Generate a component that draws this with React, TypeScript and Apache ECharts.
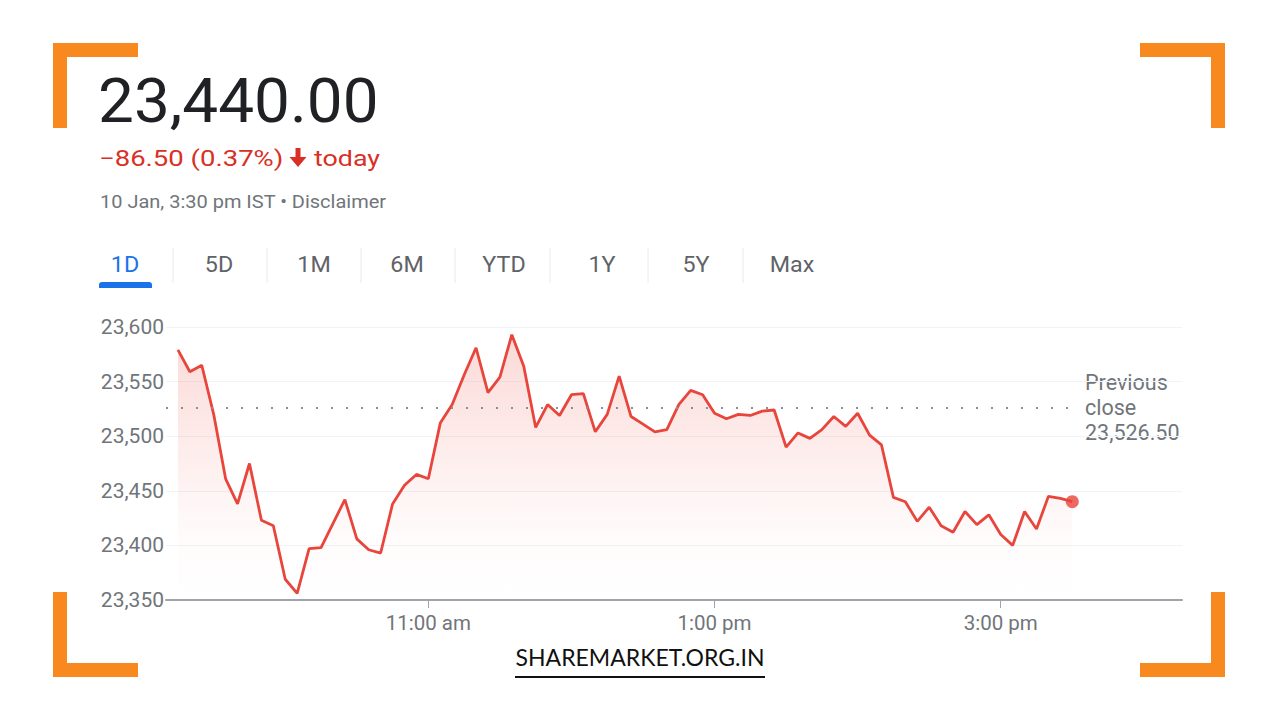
import React, { useEffect, useRef } from "react";
import * as echarts from "echarts";

// ---- data ----
const START_MIN = 555; // 9:15 am, minutes since midnight
const STEP_MIN = 5; // sampling interval of the intraday series
const prices = [
  23579, 23559, 23565, 23520, 23461, 23438, 23475, 23423, 23418, 23369,
  23356, 23397, 23398, 23420, 23442, 23406, 23396, 23393, 23438, 23455,
  23465, 23461, 23512, 23529, 23556, 23581, 23540, 23554, 23593, 23564,
  23508, 23529, 23519, 23538, 23539, 23504, 23520, 23555, 23518, 23511,
  23504, 23506, 23529, 23542, 23538, 23521, 23516, 23520, 23519, 23523,
  23524, 23490, 23503, 23498, 23506, 23518, 23509, 23521, 23501, 23492,
  23444, 23440, 23422, 23435, 23418, 23412, 23431, 23419, 23428, 23410,
  23400, 23431, 23415, 23445, 23443, 23440,
];
const xTickMinutes = [660, 780, 900];
const xTickLabels = ["11:00 am", "1:00 pm", "3:00 pm"];
const yMin = 23350;
const yMax = 23600;
const yStep = 50;
const previousClose = 23526.5;
const previousCloseLabel = ["Previous", "close", "23,526.50"];
const closeMinute = 930; // 3:30 pm
const headlinePrice = "23,440.00";
const changeText = "−86.50 (0.37%)";
const todayText = "today";
const dateText = "10 Jan, 3:30 pm IST • Disclaimer";
const tabs = ["1D", "5D", "1M", "6M", "YTD", "1Y", "5Y", "Max"];
const watermark = "SHAREMARKET.ORG.IN";

const RED = "#e8453c";
const ORANGE = "#f7891e";
const GRAY = "#70757a";
const FONT = "Roboto, Arial, sans-serif";

export default function App() {
  const ref = useRef<HTMLDivElement>(null);

  useEffect(() => {
    if (!ref.current) return;
    const chart = echarts.init(ref.current, null, { renderer: "svg" });

    const seriesData = prices.map((v, i) => [START_MIN + i * STEP_MIN, v]);
    const last = seriesData[seriesData.length - 1];

    const tabCenters = [125, 219, 314, 407, 504, 602, 696, 792];
    const sepX = [173, 267, 361, 455, 550, 648, 743];

    const txt = (
      text: string,
      x: number,
      y: number,
      size: number,
      fill: string,
      align = "left",
      scaleX = 1
    ) => ({
      type: "text",
      x,
      y,
      scaleX,
      silent: true,
      style: {
        text,
        fontSize: size,
        fontFamily: FONT,
        fill,
        align,
        verticalAlign: "middle",
      },
    });

    const bracket = (x: number, y: number, w: number, h: number) => ({
      type: "rect",
      silent: true,
      shape: { x, y, width: w, height: h },
      style: { fill: ORANGE },
    });

    const graphics: any[] = [
      // orange corner brackets
      bracket(53, 43, 85, 14),
      bracket(53, 43, 14, 85),
      bracket(1140, 43, 85, 14),
      bracket(1211, 43, 14, 85),
      bracket(53, 592, 14, 85),
      bracket(53, 663, 85, 14),
      bracket(1211, 592, 14, 85),
      bracket(1140, 663, 85, 14),
      // header
      txt(headlinePrice, 98, 101, 62, "#202124", "left", 1.03),
      txt(changeText, 99, 158, 22, "#d93025", "left", 1.25),
      {
        type: "polygon",
        silent: true,
        shape: {
          points: [
            [295.5, 148],
            [300.5, 148],
            [300.5, 157],
            [306.5, 157],
            [298, 167],
            [289.5, 157],
            [295.5, 157],
          ],
        },
        style: { fill: "#d93025" },
      },
      txt(todayText, 314, 158, 22, "#d93025", "left", 1.22),
      txt(dateText, 100, 202, 18.5, GRAY, "left", 1.08),
      // tabs
      ...tabs.map((t, i) =>
        txt(t, tabCenters[i], 265, 22, i === 0 ? "#1a73e8" : "#5f6368", "center", 1.06)
      ),
      ...sepX.map((x) => ({
        type: "line",
        silent: true,
        shape: { x1: x, y1: 248, x2: x, y2: 283 },
        style: { stroke: "#e8eaed", lineWidth: 1 },
      })),
      {
        type: "rect",
        silent: true,
        shape: { x: 99, y: 282, width: 53, height: 6, r: [3, 3, 0, 0] },
        style: { fill: "#1a73e8" },
      },
      // previous close label
      ...previousCloseLabel.map((t, i) => txt(t, 1085, 382 + i * 25, 21.5, GRAY)),
      // watermark
      {
        type: "text",
        x: 640,
        y: 657,
        silent: true,
        style: {
          text: watermark,
          fontSize: 23,
          fontFamily: "Lato, 'Open Sans', sans-serif",
          fill: "#111111",
          align: "center",
          verticalAlign: "middle",
        },
      },
      {
        type: "rect",
        silent: true,
        shape: { x: 515, y: 676, width: 250, height: 2 },
        style: { fill: "#111111" },
      },
    ];

    chart.setOption({
      animation: false,
      backgroundColor: "#ffffff",
      grid: { left: 166, right: 98, top: 327, bottom: 120 },
      xAxis: {
        type: "value",
        min: 550,
        max: 976,
        splitLine: { show: false },
        axisLine: { show: true, lineStyle: { color: "#a0a4a8", width: 2 } },
        axisTick: {
          show: true,
          customValues: xTickMinutes,
          length: 8,
          lineStyle: { color: "#a0a4a8", width: 1 },
        },
        axisLabel: {
          customValues: xTickMinutes,
          formatter: (v: number) => {
            const idx = xTickMinutes.indexOf(v);
            return idx >= 0 ? xTickLabels[idx] : "";
          },
          color: GRAY,
          fontSize: 20.5,
          fontFamily: FONT,
          margin: 12,
        },
      },
      yAxis: {
        type: "value",
        min: yMin,
        max: yMax,
        interval: yStep,
        axisLine: { show: false },
        axisTick: { show: false },
        splitLine: { show: true, lineStyle: { color: "#f1f3f4", width: 1 } },
        axisLabel: {
          formatter: (v: number) => v.toLocaleString("en-US"),
          color: GRAY,
          fontSize: 21,
          fontFamily: FONT,
          margin: 2,
        },
      },
      series: [
        {
          type: "line",
          data: seriesData,
          symbol: "none",
          lineStyle: { color: RED, width: 2.8 },
          itemStyle: { color: RED },
          areaStyle: {
            color: new echarts.graphic.LinearGradient(0, 0, 0, 1, [
              { offset: 0, color: "rgba(234,67,53,0.28)" },
              { offset: 0.75, color: "rgba(234,67,53,0.03)" },
              { offset: 1, color: "rgba(234,67,53,0)" },
            ]),
          },
          markLine: {
            silent: true,
            symbol: "none",
            label: { show: false },
            lineStyle: { color: "#8a8f94", type: [2, 13], width: 2 },
            data: [
              [
                { coord: [550, previousClose] },
                { coord: [closeMinute, previousClose] },
              ],
            ],
          },
          z: 3,
        },
        {
          type: "scatter",
          data: [last],
          symbol: "circle",
          symbolSize: 13,
          itemStyle: { color: RED },
          z: 4,
        },
      ],
      graphic: graphics,
    });

    return () => chart.dispose();
  }, []);

  return (
    <div
      ref={ref}
      style={{
        position: "fixed",
        left: 0,
        top: 0,
        width: 1280,
        height: 720,
        background: "#fff",
      }}
    />
  );
}
